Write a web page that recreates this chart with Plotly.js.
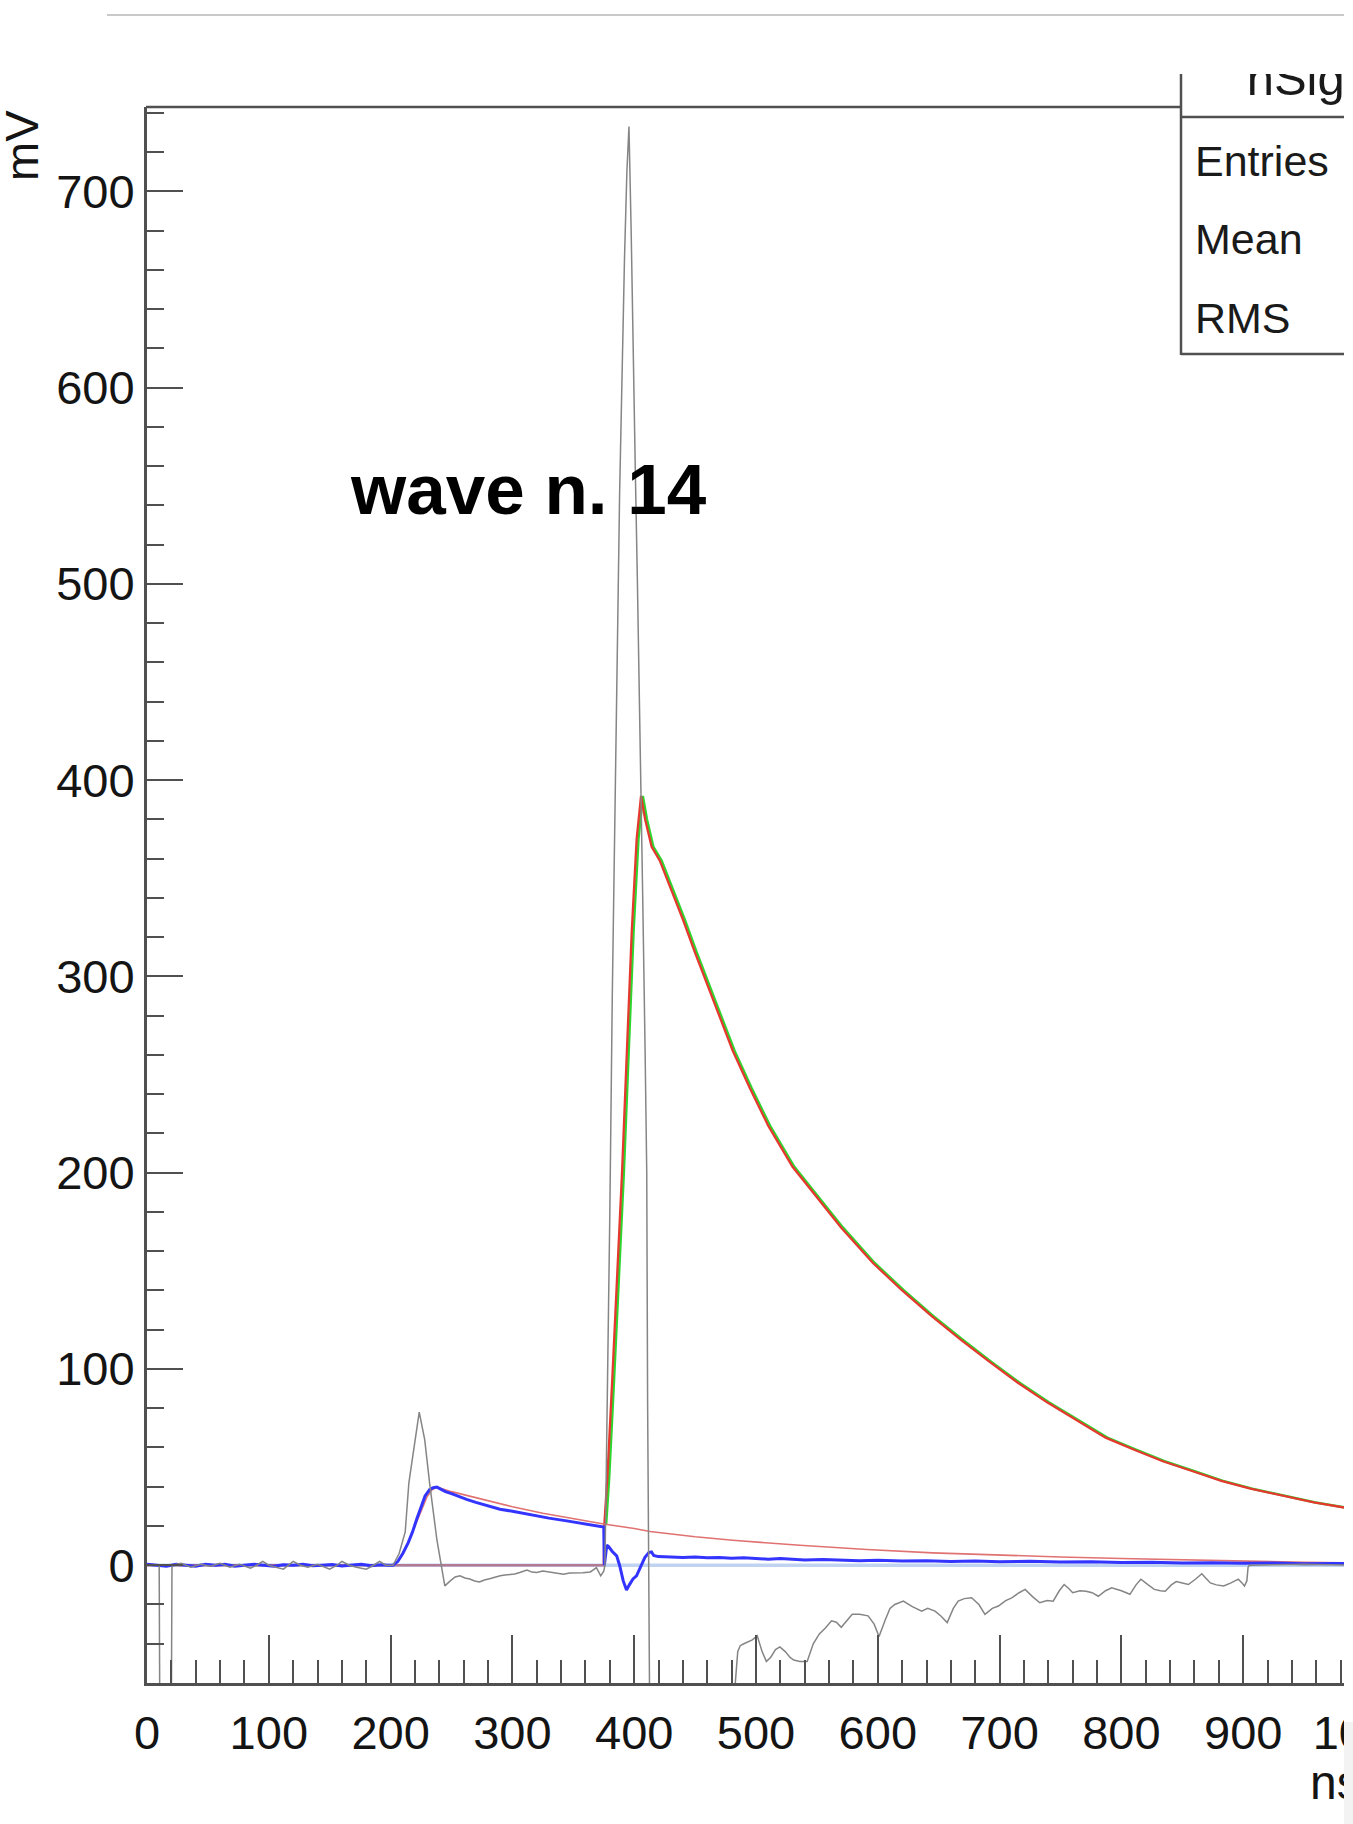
<!DOCTYPE html>
<html>
<head>
<meta charset="utf-8">
<script src="https://cdn.plot.ly/plotly-3.0.1.min.js"></script>
<style>
  html, body { margin: 0; padding: 0; background: #ffffff; overflow: hidden; }
  #wrap { position: absolute; left: 0; top: 0; width: 1344px; height: 1824px; overflow: hidden; }
  #chart { width: 1500px; height: 1824px; }
  #edge { position: absolute; left: 1344px; top: 1722px; width: 9px; height: 102px; background: #f3f3f3; }
</style>
</head>
<body>
<div id="wrap"><div id="chart"></div></div>
<div id="edge"></div>
<script>
// ---------------- data ----------------
// time axis in ns, amplitude in mV

// derivative-like gray trace
const grayT = [0, 10, 11, 19.5, 20.5, 28, 36, 44, 52, 60, 68, 76, 85, 90, 95, 100, 106, 112, 120, 126, 132, 140, 150, 156, 160, 166, 172, 180, 186, 191, 196,
  202, 207, 212, 215, 219, 223.5, 228, 232, 238, 244.5, 249, 253, 257, 261, 265, 269, 273, 277, 282, 286, 290, 294, 298, 302, 306, 310, 312, 316, 320, 325, 331, 336, 342, 347, 353, 358, 364, 369, 372.5, 375,
  376, 378, 380, 382, 384, 386, 388, 390, 392, 394, 395.7, 397.5, 399.3, 401, 402.6, 405, 407, 409, 410.3, 411, 412.5, 413.5, 482, 483,
  485, 487, 490, 493, 497, 501, 505, 508.5, 512, 516, 519.6, 524, 528, 531, 536, 542, 547, 552, 557, 562, 566, 570, 575, 579, 585, 592, 597, 601, 606, 610, 614,
  621, 628, 636, 641, 647, 652, 657, 662, 666, 671, 677, 683, 688, 694, 699, 705, 710, 716, 721, 727, 733, 739, 744, 749, 753, 757, 760, 766, 771, 776, 781,
  787, 792, 800, 807, 812, 816, 822, 827, 832, 836, 841, 845, 850, 855, 861, 866, 870, 873, 878, 884, 890, 896, 899, 901, 903, 904, 905, 950, 1000];
const grayV = [0, 0, -150, -150, 0, 1, -1, 0.5, -0.5, 1, -1, 0.5, -1.5, 0, 2, 0, -1, -2, 2, 0, -1, 0.5, -2, 0, 2, 0, -1, -2, 0, 2, 0,
  0, 6, 17, 42, 59, 78, 64, 42, 13, -10.5, -8, -6, -5.4, -6.5, -7, -8, -8.5, -7.5, -6.8, -6, -5.4, -5, -4.6, -4.5, -3.7, -3, -2.4, -3.5, -3.7, -3, -3.7, -4, -4.6, -4, -4, -3.8, -3.4, -1.2, -5.4, -3,
  0, 80, 180, 290, 390, 460, 545, 615, 665, 710, 733, 680, 604, 555, 502, 420, 340, 260, 200, 84, -60, -150, -150, -60,
  -44, -41, -40, -39, -38, -36, -44, -49, -47, -43, -41.6, -44, -47, -48.3, -49, -49, -40, -35, -32, -28.3, -29, -31.6, -28, -25, -25, -25.8, -30, -36.3, -28, -22, -20,
  -18.3, -21, -23.4, -22, -23.4, -26, -29.2, -22, -18.3, -17, -16.6, -20, -25, -22, -20.8, -18, -16.6, -14, -12.3, -16, -19.1, -18, -18.3, -13, -9.8, -12, -14, -13, -13.2, -14, -15.8,
  -13, -11.5, -13, -14.8, -10, -7.1, -10, -12.3, -13, -13.2, -10, -8.3, -9, -9.8, -7, -4.3, -7, -9, -10, -10.6, -9, -7.1, -9, -10.6, -8, -1, 0, 0.5, 0];

// blue waveform
const blueT = [0, 8, 16, 24, 32, 40, 48, 56, 64, 72, 80, 88, 96, 104, 112, 120, 128, 136, 144, 152, 160, 168, 176, 184, 192, 198,
  202, 206, 210, 214.5, 218, 221.4, 225, 228.3, 232, 235, 238, 240.6, 245, 250, 256, 262.4, 270, 280, 289.8, 300, 310, 317.2, 330, 344.6,
  355, 365, 373.3, 375, 375.5, 377.5, 379, 382, 385.6, 388, 391, 393.7, 396, 399, 401.9, 405, 408.7, 412, 414.2, 416,
  419.7, 430, 440, 450, 460, 470, 480, 490, 500, 510, 520, 530, 540, 555, 570, 585, 600, 620, 640, 660,
  680, 700, 725, 750, 775, 800, 825, 850, 875, 900, 925, 950, 975, 1000];
const blueV = [0.5, 0, -0.5, 0.5, 0, -0.5, 0.5, 0, 0.5, -0.5, 0, 0.5, 0, -0.5, 0.3, 0, 0.5, -0.3, 0, 0.4, -0.4, 0, 0.5, -0.3, 0.2, 0,
  0, 2, 6, 11.5, 17, 23.4, 30, 35.3, 38.5, 39.5, 39.8, 39, 37.5, 36.5, 35, 33.6, 32, 30.3, 28.5, 27.5, 26.3, 25.5, 24, 22.6,
  21.5, 20.5, 19.7, 19.5, 0, 10.2, 9.5, 7, 4.8, 0, -8, -12.6, -10, -7, -5.4, -1, 3.9, 6.5, 6.8, 5,
  4.4, 4.2, 4, 4.2, 3.8, 3.9, 3.6, 3.8, 3.3, 3.1, 3.4, 2.9, 2.7, 2.9, 2.5, 2.3, 2.5, 2.1, 2.3, 1.9,
  2.2, 1.8, 2, 1.6, 1.8, 1.4, 1.5, 1.2, 1.3, 1.0, 1.1, 0.8, 0.9, 0.7];

// fit of the first pulse (thin red)
const fitT = [0, 200, 202, 206, 210, 214, 218, 222, 226, 230, 234, 238, 250, 275, 300, 325, 350, 375, 400, 413, 450, 481, 536, 591, 645, 700, 750, 800, 850, 900, 950, 1000];
const fitV = [0, 0, 0.3, 2, 5.5, 11, 17, 24, 30, 35, 38.5, 39.8, 37.5, 33.5, 29.8, 26.5, 23.6, 21, 18.7, 17.2, 14.5, 12.7, 10.2, 8, 6.3, 5.1, 4.2, 3.4, 2.7, 1.9, 1.5, 1.2];

// main pulse fit (red)
const pulseT = [0, 375, 375.5, 378, 382, 386, 390, 394, 398, 402, 405.6, 409, 414.3, 421, 430, 440, 450, 465, 481, 495,
  510, 530, 548, 570, 596, 620, 644, 668, 691, 715, 739, 763, 787, 810, 834, 858, 882, 906, 930, 958, 987, 1000];
const pulseV = [0, 0, 21, 45, 95, 146, 200, 262, 323, 370, 392, 380, 366, 359, 345, 329, 312, 288, 262, 243,
  224, 203, 189, 172, 154, 140, 127, 115, 104, 93, 83, 74, 65, 59, 53, 48, 43, 39, 35.6, 32, 29, 28];

// main pulse data (green, just under the red fit)
const greenT = [377, 379.5, 383.5, 387.5, 391.5, 395.5, 399.5, 403.5, 407.1, 410.5, 415.8, 422.5, 431.5, 441.5, 451.5, 466.5, 482.5, 496.5, 511.5, 531.5,
  549.5, 571.5, 597.5, 621.5, 645.5, 669.5, 692.5, 716.5, 740.5, 764.5, 788.5, 811.5, 835.5, 859.5, 883.5, 907.5, 931.5, 959.5, 988.5, 1001.5];
const greenV = [21, 45, 95, 146, 200, 262, 323, 370, 392, 380, 366, 359, 345, 329, 312, 288, 262, 243, 224, 203,
  189, 172, 154, 140, 127, 115, 104, 93, 83, 74, 65, 59, 53, 48, 43, 39, 35.6, 32, 29, 28];

// baseline (light blue)
const zeroT = [0, 1000];
const zeroV = [0, 0];

// texts
const titleText = 'wave n. 14';
const statsTitle = ['nSignal'];
const statsLabels = ['Entries', 'Mean', 'RMS'];
const xTitle = 'ns';
const yTitle = 'mV';
const xRange = [0, 1000];
const yRange = [-60, 743];

// ---------------- layout helpers (pixel -> paper) ----------------
const W = 1500, H = 1824;
const px = v => v / W;
const py = v => (H - v) / H;
const FONT = 'Liberation Sans, Arial, Helvetica, sans-serif';
const AX = '#505050';

const traces = [
  {x: greenT, y: greenV, mode: 'lines', line: {color: '#2fd52f', width: 2.5}, hoverinfo: 'skip'},
  {x: pulseT, y: pulseV, mode: 'lines', line: {color: '#e5392f', width: 2.3}, hoverinfo: 'skip'},
  {x: zeroT, y: zeroV, mode: 'lines', line: {color: 'rgba(140,175,230,0.55)', width: 3.5}, hoverinfo: 'skip'},
  {x: fitT, y: fitV, mode: 'lines', line: {color: '#e07272', width: 1.6}, hoverinfo: 'skip'},
  {x: blueT, y: blueV, mode: 'lines', line: {color: '#3434ff', width: 3}, hoverinfo: 'skip'},
  {x: grayT, y: grayV, mode: 'lines', line: {color: '#858585', width: 1.5}, hoverinfo: 'skip'},
  {x: [0.30], y: [0.79], mode: 'text', text: statsTitle, textposition: 'middle right',
   textfont: {family: FONT, size: 49, color: '#1a1a1a'}, xaxis: 'x2', yaxis: 'y2', cliponaxis: true, hoverinfo: 'skip'}
];

const layout = {
  width: W, height: H,
  margin: {l: 0, r: 0, t: 0, b: 0},
  paper_bgcolor: '#ffffff', plot_bgcolor: 'rgba(0,0,0,0)',
  showlegend: false,
  xaxis: {
    domain: [px(147), px(1365)], range: xRange, anchor: 'y',
    showline: true, linecolor: AX, linewidth: 3, mirror: false,
    ticks: 'inside', ticklen: 48, tickwidth: 2, tickcolor: AX,
    tick0: 0, dtick: 100,
    minor: {ticks: 'inside', ticklen: 23, tickwidth: 2, tickcolor: AX, dtick: 20, tick0: 0, showgrid: false},
    showgrid: false, zeroline: false,
    tickfont: {family: FONT, size: 47, color: '#141414'},
    ticklabelstandoff: 7
  },
  yaxis: {
    domain: [py(1683), py(107)], range: yRange, anchor: 'x',
    showline: true, linecolor: AX, linewidth: 3, mirror: false,
    ticks: 'inside', ticklen: 36, tickwidth: 2, tickcolor: AX,
    tick0: 0, dtick: 100,
    minor: {ticks: 'inside', ticklen: 17, tickwidth: 2, tickcolor: AX, dtick: 20, tick0: 0, showgrid: false},
    showgrid: false, zeroline: false,
    tickfont: {family: FONT, size: 47, color: '#141414'},
    ticklabelstandoff: 0
  },
  xaxis2: {domain: [px(1181), px(1400)], range: [0, 1], visible: false, anchor: 'y2', fixedrange: true},
  yaxis2: {domain: [py(117), py(74)], range: [0, 1], visible: false, anchor: 'x2', fixedrange: true},
  shapes: [
    // page rule at top
    {type: 'line', xref: 'paper', yref: 'paper', x0: px(107), x1: px(1500), y0: py(15), y1: py(15), line: {color: '#c9c9c9', width: 2}},
    // top frame line of the pad
    {type: 'line', xref: 'paper', yref: 'paper', x0: px(146), x1: px(1181), y0: py(107), y1: py(107), line: {color: AX, width: 2.5}},
    // stats box borders
    {type: 'line', xref: 'paper', yref: 'paper', x0: px(1181), x1: px(1181), y0: py(74), y1: py(355), line: {color: AX, width: 2.5}},
    {type: 'line', xref: 'paper', yref: 'paper', x0: px(1181), x1: px(1500), y0: py(117), y1: py(117), line: {color: AX, width: 2.5}},
    {type: 'line', xref: 'paper', yref: 'paper', x0: px(1181), x1: px(1500), y0: py(354), y1: py(354), line: {color: AX, width: 2.5}}
  ],
  annotations: [
    {text: '<b>' + titleText + '</b>', xref: 'paper', yref: 'paper', x: px(348), y: py(490), xanchor: 'left', yanchor: 'middle',
     showarrow: false, font: {family: FONT, size: 71, color: '#000000'}},
    {text: statsLabels[0], xref: 'paper', yref: 'paper', x: px(1193), y: py(161), xanchor: 'left', yanchor: 'middle',
     showarrow: false, font: {family: FONT, size: 43, color: '#1a1a1a'}},
    {text: statsLabels[1], xref: 'paper', yref: 'paper', x: px(1193), y: py(239), xanchor: 'left', yanchor: 'middle',
     showarrow: false, font: {family: FONT, size: 43, color: '#1a1a1a'}},
    {text: statsLabels[2], xref: 'paper', yref: 'paper', x: px(1193), y: py(318), xanchor: 'left', yanchor: 'middle',
     showarrow: false, font: {family: FONT, size: 43, color: '#1a1a1a'}},
    {text: xTitle, xref: 'paper', yref: 'paper', x: px(1308), y: py(1782), xanchor: 'left', yanchor: 'middle',
     showarrow: false, font: {family: FONT, size: 48, color: '#141414'}},
    {text: yTitle, xref: 'paper', yref: 'paper', x: px(21), y: py(146), xanchor: 'center', yanchor: 'middle', textangle: -90,
     showarrow: false, font: {family: FONT, size: 47, color: '#141414'}}
  ]
};

Plotly.newPlot('chart', traces, layout, {displayModeBar: false, staticPlot: true});
</script>
</body>
</html>
